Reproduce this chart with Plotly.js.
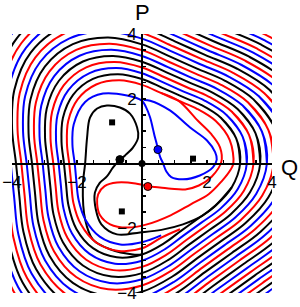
<!DOCTYPE html>
<html><head><meta charset="utf-8">
<script src="https://cdn.plot.ly/plotly-3.0.1.min.js"></script>
<style>html,body{margin:0;padding:0;background:#fff}#plot{width:300px;height:307px}</style>
</head><body><div id="plot"></div>
<script>
// ---- axis ticks ----
const tickVals = [-4,-3.5,-3,-2.5,-2,-1.5,-1,-0.5,0,0.5,1,1.5,2,2.5,3,3.5,4];
const tickText = ['\u22124','','','','\u22122','','','','','','','','2','','','','4'];

// ---- fixed points ----
const ellipticQ = [-0.92, 1.57, -0.62];
const ellipticP = [1.27, 0.15, -1.48];
const hyperQ = [-0.68, 0.49, 0.18];
const hyperP = [0.12, 0.43, -0.71];
const hyperColor = ['#000000', '#0000ff', '#ff0000'];

// ---- inner curves through the marked points (q, p) ----
const blackA_q = [-0.68,-0.52,-0.28,-0.12,-0.15,-0.37,-0.68,-1.08,-1.38,-1.60,-1.69,-1.75,-1.82,-1.75,-1.51,-0.98,-0.28,0.00];
const blackA_p = [0.12,0.25,0.49,0.80,1.11,1.54,1.73,1.79,1.70,1.42,0.80,0.00,-0.68,-1.73,-2.35,-2.65,-2.81,-2.81];
const blackB_q = [-0.68,-0.89,-1.08,-1.30,-1.45,-1.42,-1.25,-0.77,-0.06,0.60,1.26,1.85,2.26,2.76];
const blackB_p = [0.12,-0.12,-0.40,-0.60,-0.90,-1.42,-1.88,-2.19,-2.13,-2.05,-1.88,-1.62,-1.30,-0.74];
const blueA_q = [0.49,0.56,0.65,0.75,0.90,1.26,1.78,2.18,2.30,2.25,2.00,1.48,0.86,0.25,0.05];
const blueA_p = [0.43,0.20,0.00,-0.25,-0.42,-0.49,-0.37,-0.12,0.12,0.35,0.71,1.11,1.64,1.94,1.96];
const blueB_q = [0.49,0.45,0.40,0.33,0.25,0.12,0.00,-0.46,-1.20,-1.75,-2.10,-2.14,-2.07,-2.02,-1.95,-1.74,-1.30,-0.67,0.00,0.59];
const blueB_p = [0.43,0.62,0.80,1.10,1.42,1.75,1.94,2.10,2.16,1.90,1.21,0.57,0.00,-0.54,-1.13,-1.74,-2.26,-2.50,-2.43,-2.22];
const redA_q = [0.18,-0.20,-0.77,-1.15,-1.35,-1.38,-1.29,-0.98,-0.46,0.15,0.88,1.50,2.05,2.45,2.72,2.81,2.70,2.27,1.69,1.12,0.58,0.00,-0.69,-1.41,-1.98,-2.27,-2.31,-2.24,-2.18,-2.11,-1.88,-1.41,-0.72,0.00,0.61,1.17];
const redA_p = [-0.71,-0.62,-0.59,-0.70,-0.95,-1.25,-1.60,-1.88,-1.98,-1.88,-1.60,-1.26,-0.95,-0.55,-0.20,0.00,0.72,1.31,1.69,1.94,2.18,2.43,2.57,2.44,1.98,1.31,0.62,0.00,-0.58,-1.22,-1.88,-2.44,-2.70,-2.62,-2.28,-2.03];
const redB_q = [0.18,0.55,0.90,1.33,1.75,2.15,2.44,2.40,2.12,1.72,1.12,0.58];
const redB_p = [-0.71,-0.74,-0.78,-0.80,-0.68,-0.40,0.05,0.50,0.92,1.32,1.94,2.18];

// ---- outer closed curves: level size and rounded-triangle profile (every 15 degrees) ----
const outerLevels = [2.71,2.895,3.08,3.265,3.45,3.635,3.82,4.005,4.19,4.375,4.56,4.745,4.93,5.115,5.30,5.485,5.67,5.855,6.04,6.225,6.41,6.595,6.78];
const outerColors = ['#000000','#0000ff','#ff0000'];
const profile = [1.114,1.107,1.037,0.946,0.886,0.893,0.963,1.054];
const profileStepDeg = 15;

const traces = [];
const lineStyle = c => ({color:c, width:2, shape:'spline', smoothing:1});

outerLevels.forEach((lv, k) => {
  const xs = [], ys = [];
  const n = 360 / profileStepDeg;
  for (let j = 0; j <= n + 2; j++) {
    const th = profileStepDeg * j * Math.PI / 180;
    const r = lv * profile[j % profile.length];
    xs.push(r * Math.cos(th)); ys.push(r * Math.sin(th));
  }
  traces.push({x:xs, y:ys, mode:'lines', type:'scatter', hoverinfo:'skip',
               line:lineStyle(outerColors[k % 3])});
});

[[blackA_q, blackA_p, '#000000'], [blackB_q, blackB_p, '#000000'],
 [blueA_q, blueA_p, '#0000ff'], [blueB_q, blueB_p, '#0000ff'],
 [redA_q, redA_p, '#ff0000'], [redB_q, redB_p, '#ff0000']].forEach(([q, p, c]) => {
  traces.push({x:q, y:p, mode:'lines', type:'scatter', hoverinfo:'skip', line:lineStyle(c)});
});

traces.push({x: ellipticQ, y: ellipticP, mode:'markers', type:'scatter',
  marker:{symbol:'square', size:6, color:'#000000'}});
traces.push({x: [0], y: [0], mode:'markers', type:'scatter',
  marker:{symbol:'circle', size:7, color:'#000000'}});
traces.push({x: hyperQ, y: hyperP, mode:'markers', type:'scatter',
  marker:{symbol:'circle', size:8, color:hyperColor, line:{color:'#000000', width:1}}});

const axisCommon = {
  range:[-4,4], anchor:'free', position:0.5, showgrid:false, zeroline:false,
  showline:true, linecolor:'#000000', linewidth:2,
  ticks:'inside', ticklen:3, tickwidth:1.5, tickcolor:'#000000',
  tickmode:'array', tickvals:tickVals, ticktext:tickText,
  tickfont:{family:'Liberation Sans, Arial, sans-serif', size:17, color:'#000000'},
  fixedrange:true
};

const layout = {
  width:300, height:307,
  margin:{l:12, r:28, t:34, b:14, pad:0},
  paper_bgcolor:'#ffffff', plot_bgcolor:'#ffffff',
  showlegend:false,
  xaxis: Object.assign({}, axisCommon, {ticklabelstandoff:3}),
  yaxis: Object.assign({}, axisCommon, {ticklabelstandoff:1}),
  annotations:[
    {text:'P', xref:'x', yref:'paper', x:0, y:1.082, showarrow:false, xanchor:'center', yanchor:'middle',
     font:{family:'Liberation Sans, Arial, sans-serif', size:22, color:'#000000'}},
    {text:'Q', xref:'paper', yref:'y', x:1.069, y:-0.12, showarrow:false, xanchor:'center', yanchor:'middle',
     font:{family:'Liberation Sans, Arial, sans-serif', size:22, color:'#000000'}}
  ]
};

Plotly.newPlot('plot', traces, layout, {staticPlot:true, displayModeBar:false});
</script></body></html>
